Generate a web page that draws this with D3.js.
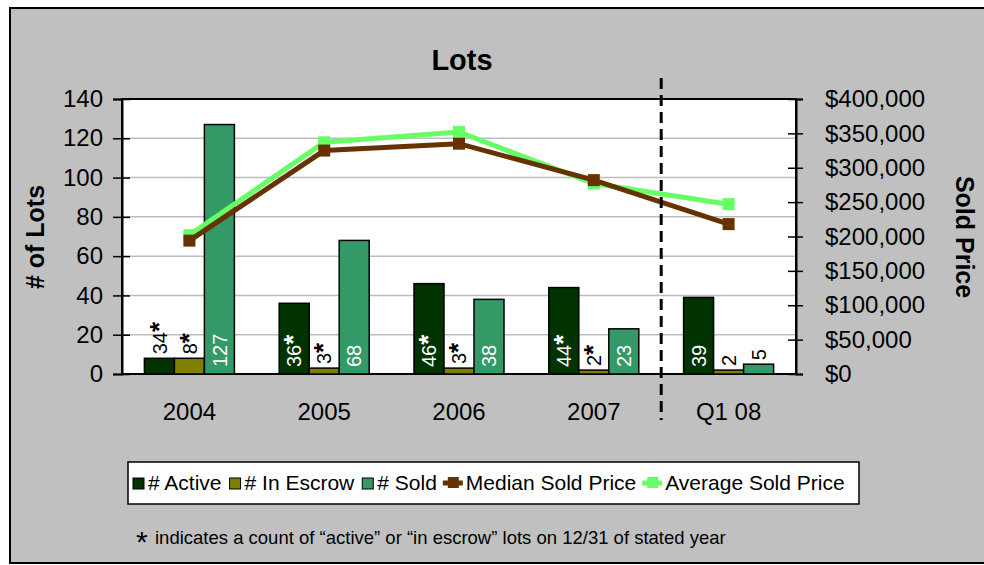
<!DOCTYPE html>
<html>
<head>
<meta charset="utf-8">
<title>Lots</title>
<script src="https://d3js.org/d3.v7.min.js"></script>
<style>
  body { margin: 0; background: #fff; }
  text { font-family: Arial, "Liberation Sans", sans-serif; }
</style>
</head>
<body>
<svg width="984" height="565"></svg>
<script>
// values
var categories = ["2004", "2005", "2006", "2007", "Q1 08"];
var activeCount = [8, 36, 46, 44, 39];
var activeLabels = ["34", "36", "46", "44", "39"];
var escrowCount = [8, 3, 3, 2, 2];
var soldCount = [127, 68, 38, 23, 5];
var starred = [true, true, true, true, false];   // count taken on 12/31
var medianPrice = [194000, 325000, 335000, 282000, 218000];
var averagePrice = [202000, 337000, 352000, 277000, 247000];
var lotTicks = [0, 20, 40, 60, 80, 100, 120, 140];
var priceTicks = [0, 50000, 100000, 150000, 200000, 250000, 300000, 350000, 400000];

var colActive = "#003300", colEscrow = "#808000", colSold = "#339966";
var colMedian = "#663300", colAverage = "#66ff66";

var svg = d3.select("svg");

// chart background
svg.append("rect")
    .attr("x", 10).attr("y", 8)
    .attr("width", 990).attr("height", 555)
    .attr("fill", "#c0c0c0")
    .attr("stroke", "#000")
    .attr("stroke-width", 2);

var pLeft = 122, pRight = 796, pTop = 99, pBottom = 374;

var x = d3.scaleBand().domain(categories).range([pLeft, pRight]);
var inner = d3.scaleBand().domain(["active", "escrow", "sold"]).range([-45, 45]);
var y = d3.scaleLinear().domain([0, 140]).range([pBottom, pTop]);
var y2 = d3.scaleLinear().domain([0, 400000]).range([pBottom, pTop]);

// plot area
svg.append("rect")
    .attr("x", pLeft).attr("y", pTop)
    .attr("width", pRight - pLeft).attr("height", pBottom - pTop)
    .attr("fill", "#fff");

svg.append("g").selectAll("line")
  .data(lotTicks.slice(1, -1))
  .enter().append("line")
    .attr("x1", pLeft).attr("x2", pRight)
    .attr("y1", function(d) { return y(d); })
    .attr("y2", function(d) { return y(d); })
    .attr("stroke", "#bdbdbd")
    .attr("stroke-width", 1.5);

svg.append("rect")
    .attr("x", pLeft).attr("y", pTop)
    .attr("width", pRight - pLeft).attr("height", pBottom - pTop)
    .attr("fill", "none")
    .attr("stroke", "#000")
    .attr("stroke-width", 2);

// bars
var rows = categories.map(function(c, i) {
  return [
    {cat: c, key: "active", v: activeCount[i], label: activeLabels[i], star: starred[i], color: colActive},
    {cat: c, key: "escrow", v: escrowCount[i], label: String(escrowCount[i]), star: starred[i], color: colEscrow},
    {cat: c, key: "sold", v: soldCount[i], label: String(soldCount[i]), star: false, color: colSold}
  ];
});
var bars = [].concat.apply([], rows);

function barX(d) { return x(d.cat) + x.bandwidth() / 2 + inner(d.key); }
function fits(d) { return y(0) - y(d.v) > 42; }

svg.append("g").selectAll("rect")
  .data(bars)
  .enter().append("rect")
    .attr("x", barX)
    .attr("y", function(d) { return y(d.v); })
    .attr("width", inner.bandwidth())
    .attr("height", function(d) { return y(0) - y(d.v); })
    .attr("fill", function(d) { return d.color; })
    .attr("stroke", "#000")
    .attr("stroke-width", 1.5);

// bar labels (rotated, inside base when they fit, above the bar otherwise)
var lbl = svg.append("g").selectAll("text")
  .data(bars)
  .enter().append("text")
    .attr("font-size", 20)
    .attr("text-anchor", "start")
    .attr("transform", function(d) {
      var cx = barX(d) + inner.bandwidth() / 2;
      var ty = fits(d) ? y(0) - 7 : y(d.v) - 4;
      return "translate(" + cx + "," + ty + ") rotate(-90)";
    })
    .attr("fill", function(d) { return fits(d) ? "#fff" : "#000"; });
lbl.append("tspan")
    .attr("dy", "0.36em")
    .text(function(d) { return d.label; });
lbl.filter(function(d) { return d.star; })
  .append("tspan")
    .attr("font-size", 26)
    .attr("font-weight", "bold")
    .attr("dy", "0.04em")
    .text("*");

// price lines
function linePts(vals) {
  return vals.map(function(v, i) { return [x(categories[i]) + x.bandwidth() / 2, y2(v)]; });
}
var line = d3.line();
[[averagePrice, colAverage], [medianPrice, colMedian]].forEach(function(s) {
  var pts = linePts(s[0]);
  svg.append("path")
      .attr("d", line(pts))
      .attr("fill", "none")
      .attr("stroke", s[1])
      .attr("stroke-width", 5);
  svg.append("g").selectAll("rect")
    .data(pts)
    .enter().append("rect")
      .attr("x", function(p) { return p[0] - 6; })
      .attr("y", function(p) { return p[1] - 6; })
      .attr("width", 12).attr("height", 12)
      .attr("fill", s[1]);
});

// divider between full years and Q1 08
var divX = x("Q1 08");
svg.append("line")
    .attr("x1", divX).attr("x2", divX)
    .attr("y1", 78).attr("y2", 420)
    .attr("stroke", "#000")
    .attr("stroke-width", 3)
    .attr("stroke-dasharray", "11,6");

// axes
var axL = svg.append("g")
    .attr("transform", "translate(" + pLeft + ",0)")
    .call(d3.axisLeft(y).tickValues(lotTicks).tickSize(9).tickPadding(10));
var axR = svg.append("g")
    .attr("transform", "translate(" + pRight + ",0)")
    .call(d3.axisRight(y2).tickValues(priceTicks).tickSize(7).tickPadding(22)
      .tickFormat(function(d) { return "$" + d3.format(",")(d); }));
var axB = svg.append("g")
    .attr("transform", "translate(0," + pBottom + ")")
    .call(d3.axisBottom(x).tickSize(0).tickPadding(29));

[axL, axR, axB].forEach(function(a) {
  a.select(".domain").attr("stroke", "#000").attr("stroke-width", 2);
  a.selectAll(".tick line").attr("stroke", "#000").attr("stroke-width", 1.5);
  a.selectAll("text").attr("font-size", 24).attr("fill", "#000")
    .attr("font-family", "Arial, 'Liberation Sans', sans-serif");
});
axL.selectAll(".tick line").attr("x1", 8);
axR.selectAll(".tick line").attr("x1", -8);
axB.select(".domain").remove();

// titles
svg.append("text")
    .attr("x", 462).attr("y", 70)
    .attr("text-anchor", "middle")
    .attr("font-size", 29).attr("font-weight", "bold")
    .text("Lots");
svg.append("text")
    .attr("transform", "translate(44,237) rotate(-90)")
    .attr("text-anchor", "middle")
    .attr("font-size", 25).attr("font-weight", "bold")
    .text("# of Lots");
svg.append("text")
    .attr("transform", "translate(956,237) rotate(90)")
    .attr("text-anchor", "middle")
    .attr("font-size", 25).attr("font-weight", "bold")
    .text("Sold Price");

// legend
var lg = svg.append("g");
lg.append("rect")
    .attr("x", 128).attr("y", 462)
    .attr("width", 731).attr("height", 42)
    .attr("fill", "#fff")
    .attr("stroke", "#000")
    .attr("stroke-width", 1.5);

var legendItems = [
  {name: "# Active", color: colActive, kind: "bar"},
  {name: "# In Escrow", color: colEscrow, kind: "bar"},
  {name: "# Sold", color: colSold, kind: "bar"},
  {name: "Median Sold Price", color: colMedian, kind: "line"},
  {name: "Average Sold Price", color: colAverage, kind: "line"}
];
var lx = 133, ly = 483;
legendItems.forEach(function(it) {
  if (it.kind == "bar") {
    lg.append("rect")
        .attr("x", lx).attr("y", ly - 5)
        .attr("width", 11).attr("height", 11)
        .attr("fill", it.color)
        .attr("stroke", "#000").attr("stroke-width", 1);
    lx += 15;
  } else {
    lg.append("line")
        .attr("x1", lx - 2).attr("x2", lx + 18)
        .attr("y1", ly).attr("y2", ly)
        .attr("stroke", it.color).attr("stroke-width", 5);
    lg.append("rect")
        .attr("x", lx + 3).attr("y", ly - 6)
        .attr("width", 11).attr("height", 11)
        .attr("fill", it.color);
    lx += 21;
  }
  var t = lg.append("text")
      .attr("x", lx).attr("y", ly + 7)
      .attr("font-size", 21)
      .text(it.name);
  lx += t.node().getComputedTextLength() + 8;
});

// footnote
svg.append("text")
    .attr("x", 136).attr("y", 552)
    .attr("font-size", 30)
    .text("*");
svg.append("text")
    .attr("x", 155).attr("y", 544)
    .attr("font-size", 18.5)
    .text("indicates a count of \u201cactive\u201d or \u201cin escrow\u201d lots on 12/31 of stated year");
</script>
</body>
</html>
